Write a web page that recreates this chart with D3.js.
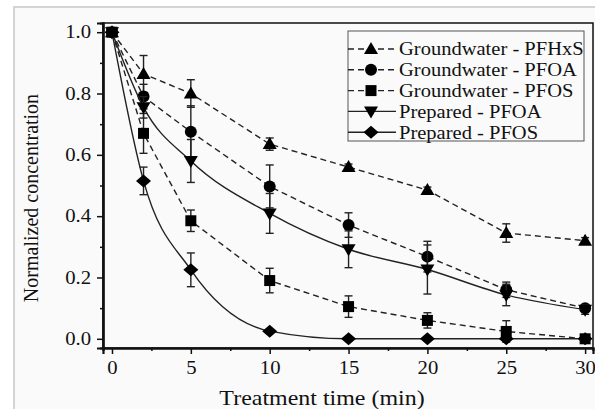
<!DOCTYPE html>
<html>
<head>
<meta charset="utf-8">
<script src="https://cdn.jsdelivr.net/npm/d3@7"></script>
<style>
  body { margin: 0; background: #fff; }
  text { font-family: "Liberation Serif", "Times New Roman", serif; fill: #111; }
</style>
</head>
<body>
<svg id="chart" width="595" height="409"></svg>
<script>
// data
var times = [0, 2, 5, 10, 15, 20, 25, 30];
var gwPFHxS = [1.0, 0.864, 0.80, 0.635, 0.56, 0.485, 0.345, 0.32];
var gwPFHxSErr = [0, 0.06, 0.045, 0.02, 0.01, 0.01, 0.03, 0.01];
var gwPFOA = [1.0, 0.79, 0.675, 0.497, 0.371, 0.268, 0.16, 0.10];
var gwPFOAErr = [0, 0.04, 0.085, 0.07, 0.04, 0.05, 0.025, 0.01];
var gwPFOS = [1.0, 0.67, 0.385, 0.19, 0.105, 0.06, 0.024, 0.0];
var gwPFOSErr = [0, 0.065, 0.035, 0.04, 0.035, 0.025, 0.035, 0.005];
var prPFOA = [1.0, 0.755, 0.58, 0.409, 0.292, 0.226, 0.143, 0.095];
var prPFOAErr = [0, 0.035, 0.07, 0.065, 0.06, 0.08, 0.035, 0.015];
var prPFOS = [1.0, 0.515, 0.225, 0.025, 0.0, 0.0, 0.0, 0.0];
var prPFOSErr = [0, 0.045, 0.055, 0.005, 0, 0, 0, 0];
var seriesNames = ["Groundwater - PFHxS", "Groundwater - PFOA", "Groundwater - PFOS", "Prepared - PFOA", "Prepared - PFOS"];
var xTicks = [0, 5, 10, 15, 20, 25, 30];
var yTicks = [0.0, 0.2, 0.4, 0.6, 0.8, 1.0];

var series = [
  {name: seriesNames[0], vals: gwPFHxS, err: gwPFHxSErr, marker: "triUp", dashed: true},
  {name: seriesNames[1], vals: gwPFOA, err: gwPFOAErr, marker: "circle", dashed: true},
  {name: seriesNames[2], vals: gwPFOS, err: gwPFOSErr, marker: "square", dashed: true},
  {name: seriesNames[3], vals: prPFOA, err: prPFOAErr, marker: "triDown", dashed: false},
  {name: seriesNames[4], vals: prPFOS, err: prPFOSErr, marker: "diamond", dashed: false}
];

var svg = d3.select("#chart");

// light frame of the scanned figure
svg.append("rect").attr("x", 14).attr("y", 7).attr("width", 590).attr("height", 410)
  .attr("fill", "#fafafa").attr("stroke", "#c8c8c8").attr("stroke-width", 1.5);

var plotLeft = 103, plotRight = 593, plotTop = 23, plotBottom = 348;
var x = d3.scaleLinear().domain([-0.57, 30.5]).range([plotLeft, plotRight]);
var y = d3.scaleLinear().domain([-0.03, 1.03]).range([plotBottom, plotTop]);

// plot frame
svg.append("rect").attr("x", plotLeft).attr("y", plotTop)
  .attr("width", plotRight - plotLeft).attr("height", plotBottom - plotTop)
  .attr("fill", "none").attr("stroke", "#111").attr("stroke-width", 1.5);

// axes
var xAxis = svg.append("g").attr("transform", "translate(0," + plotBottom + ")")
  .call(d3.axisBottom(x).tickValues(xTicks).tickSize(6).tickPadding(5).tickFormat(d3.format("d")));
var xMinor = svg.append("g").attr("transform", "translate(0," + plotBottom + ")")
  .call(d3.axisBottom(x).tickValues(d3.range(2.5, 30, 5)).tickSize(3).tickFormat(""));
var yAxis = svg.append("g").attr("transform", "translate(" + plotLeft + ",0)")
  .call(d3.axisLeft(y).tickValues(yTicks).tickSize(6).tickPadding(6).tickFormat(d3.format(".1f")));
var yMinor = svg.append("g").attr("transform", "translate(" + plotLeft + ",0)")
  .call(d3.axisLeft(y).tickValues(d3.range(0.1, 1.0, 0.2)).tickSize(3).tickFormat(""));

[xAxis, xMinor, yAxis, yMinor].forEach(function(g){
  g.select(".domain").attr("stroke", "#111").attr("stroke-width", 2.2);
  g.selectAll(".tick line").attr("stroke", "#111").attr("stroke-width", 1.5);
});
xAxis.selectAll(".tick text").attr("font-size", 18).attr("dy", "0.85em");
yAxis.selectAll(".tick text").attr("font-size", 18);

// axis titles
svg.append("text").attr("class", "stretch").attr("x", 322).attr("y", 405)
  .attr("text-anchor", "middle").attr("font-size", 21).text("Treatment time (min)");
svg.append("text").attr("transform", "translate(38,198) rotate(-90)")
  .attr("text-anchor", "middle").attr("font-size", 20).text("Normalized concentration");

// marker shapes
function markerPath(type) {
  switch (type) {
    case "triUp": return "M0,-7 L7,5 L-7,5 Z";
    case "triDown": return "M0,7 L7,-5 L-7,-5 Z";
    case "circle": return "M-6,0 A6,6 0 1,0 6,0 A6,6 0 1,0 -6,0 Z";
    case "square": return "M-5.5,-5.5 H5.5 V5.5 H-5.5 Z";
    case "diamond": return "M0,-6.5 L7.5,0 L0,6.5 L-7.5,0 Z";
  }
}

var plot = svg.append("g");
var lineStraight = d3.line().x(function(d){ return x(d.t); }).y(function(d){ return y(d.v); });
var lineSmooth = d3.line().x(function(d){ return x(d.t); }).y(function(d){ return y(d.v); }).curve(d3.curveMonotoneX);

series.forEach(function(s){
  var pts = times.map(function(t, i){ return {t: t, v: s.vals[i], e: s.err[i]}; });
  plot.append("path").datum(pts)
    .attr("d", s.dashed ? lineStraight : lineSmooth)
    .attr("fill", "none").attr("stroke", "#222").attr("stroke-width", 1.4)
    .attr("stroke-dasharray", s.dashed ? "6,4" : null);

  var eb = plot.append("g");
  pts.filter(function(d){ return d.e > 0.006; }).forEach(function(d){
    var cx = x(d.t);
    eb.append("line").attr("x1", cx).attr("x2", cx).attr("y1", y(d.v - d.e)).attr("y2", y(d.v + d.e))
      .attr("stroke", "#222").attr("stroke-width", 1.4);
    [d.v - d.e, d.v + d.e].forEach(function(v){
      eb.append("line").attr("x1", cx - 4).attr("x2", cx + 4).attr("y1", y(v)).attr("y2", y(v))
        .attr("stroke", "#222").attr("stroke-width", 1.4);
    });
  });

  plot.selectAll(null).data(pts).enter().append("path")
    .attr("d", markerPath(s.marker))
    .attr("transform", function(d){ return "translate(" + x(d.t) + "," + y(d.v) + ")"; })
    .attr("fill", "#000");
});

// legend
var legend = svg.append("g");
legend.append("rect").attr("x", 348).attr("y", 31).attr("width", 236).attr("height", 110)
  .attr("fill", "#fafafa").attr("stroke", "#555").attr("stroke-width", 1);
series.forEach(function(s, i){
  var ly = 49 + i * 20.8;
  legend.append("line").attr("x1", 348).attr("x2", 396).attr("y1", ly).attr("y2", ly)
    .attr("stroke", "#222").attr("stroke-width", 1.4)
    .attr("stroke-dasharray", s.dashed ? "6,4" : null);
  legend.append("path").attr("d", markerPath(s.marker))
    .attr("transform", "translate(371," + ly + ")").attr("fill", "#000");
  legend.append("text").attr("class", "stretch").attr("x", 399).attr("y", ly).attr("dy", "0.35em")
    .attr("font-size", 18).text(s.name);
});

// the scanned figure is slightly stretched sideways
svg.selectAll("text.stretch").each(function(){
  var w = this.getComputedTextLength();
  d3.select(this).attr("textLength", w * 1.14).attr("lengthAdjust", "spacingAndGlyphs");
});
svg.selectAll(".tick text").each(function(){
  var w = this.getComputedTextLength();
  d3.select(this).attr("textLength", w * 1.15).attr("lengthAdjust", "spacingAndGlyphs");
});
</script>
</body>
</html>
